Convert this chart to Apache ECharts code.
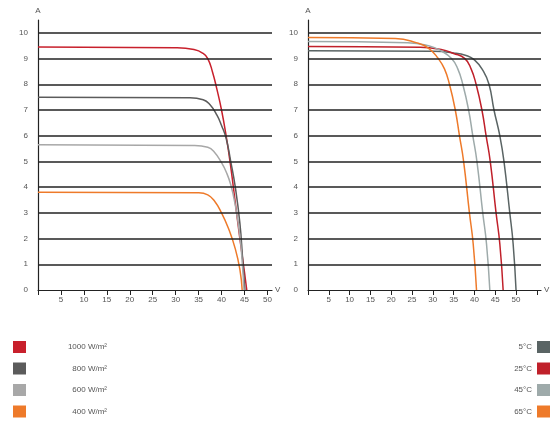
<!DOCTYPE html>
<html><head><meta charset="utf-8">
<script src="https://cdn.jsdelivr.net/npm/echarts@6/dist/echarts.min.js"></script>
<style>html,body{margin:0;padding:0;background:#fff}#c{width:558px;height:423px}</style>
</head><body><div id="c"></div>
<script>
// Left chart: current vs voltage at different irradiance
const irrNames = ['1000 W/m²', '800 W/m²', '600 W/m²', '400 W/m²'];
const irr1000 = [[0,9.45],[30,9.42],[34,9.35],[36,9.2],[37,9.0],[38,8.5],[39,7.8],[40,7.0],[41,6.0],[42,4.8],[43,3.4],[44,2.0],[45,0.7],[45.5,0]];
const irr800 = [[0,7.5],[33,7.48],[36,7.4],[37.5,7.2],[39,6.8],[40,6.4],[41,5.9],[42,5.0],[43,4.0],[44,2.6],[44.6,1.2],[45.1,0]];
const irr600 = [[0,5.65],[34,5.62],[37,5.55],[38.5,5.35],[40,4.95],[41,4.6],[42,4.1],[43,3.3],[44,2.1],[44.5,1.1],[44.9,0]];
const irr400 = [[0,3.8],[35,3.78],[37,3.7],[38.5,3.45],[40,3.0],[41.5,2.4],[43,1.6],[44,0.8],[44.5,0]];
// Right chart: current vs voltage at different cell temperature
const tempNames = ['5°C', '25°C', '45°C', '65°C'];
const temp5 = [[0,9.3],[30,9.28],[35,9.22],[38,9.12],[40,8.95],[42,8.55],[43.5,8.0],[44.7,7.0],[46.1,6.0],[47.1,5.0],[48.5,3.0],[49.3,1.8],[50,0]];
const temp25 = [[0,9.47],[27,9.44],[32,9.35],[35,9.2],[37.7,9.0],[39.2,8.6],[40.4,8.0],[41.8,7.0],[42.8,6.0],[43.8,5.0],[45.2,3.0],[46.1,1.8],[46.9,0]];
const temp45 = [[0,9.66],[24,9.62],[29,9.5],[32,9.3],[34.5,9.0],[36,8.6],[37.2,8.0],[38.6,7.0],[39.6,6.0],[40.6,5.0],[42,3.0],[42.9,1.8],[43.7,0]];
const temp65 = [[0,9.82],[21,9.78],[26,9.62],[29,9.4],[31.3,9.0],[32.8,8.6],[34,8.0],[35.4,7.0],[36.4,6.0],[37.4,5.0],[38.8,3.0],[39.7,1.8],[40.5,0]];
// Horizontal grid lines (ampere levels)
const gridLevels = [1,2,3,4,5,6,7,8,9,10];
const yTickLabels = [0,1,2,3,4,5,6,7,8,9,10];

const irrColors = ['#c8202c', '#5b5b5b', '#a8a8a8', '#ee7a2a'];
const tempColors = ['#5a6464', '#c0202a', '#9eaaaa', '#ee7a2a'];

const font = 'Liberation Sans, Arial, sans-serif';
const txt = {color:'#555', fontSize:8, fontFamily:font};

function xAx(gi, max) {
  return {type:'value', gridIndex:gi, min:0, max:max, interval:5, name:'V', nameGap:3,
    nameTextStyle:Object.assign({}, txt, {fontSize:8}),
    axisLine:{lineStyle:{color:'#222', width:1.2}},
    axisTick:{show:true, length:5, lineStyle:{color:'#222'}},
    axisLabel:Object.assign({}, txt, {margin:6, showMaxLabel:false, formatter:v => (v === 0 || v > 50) ? '' : v}),
    splitLine:{show:false}};
}
function yAx(gi) {
  return {type:'value', gridIndex:gi, min:0, max:10.5, interval:1, name:'A', nameGap:5,
    nameTextStyle:Object.assign({}, txt, {align:'center'}),
    axisLine:{show:true, lineStyle:{color:'#222', width:1.2}},
    axisTick:{show:false},
    axisLabel:Object.assign({}, txt, {margin:10, showMaxLabel:false,
      formatter:v => yTickLabels.indexOf(v) >= 0 ? String(v) : ''}),
    splitLine:{show:false}};
}
function ser(name, data, color, gi) {
  return {name:name, type:'line', xAxisIndex:gi, yAxisIndex:gi, data:data, color:color,
    showSymbol:false, smooth:0.5, lineStyle:{width:1.5, color:color}, z:3};
}
function gridSer(gi) {
  return {type:'line', xAxisIndex:gi, yAxisIndex:gi, data:[], z:1, silent:true,
    markLine:{silent:true, symbol:'none', label:{show:false}, animation:false,
      lineStyle:{color:'#222', width:1.6, type:'solid'},
      data:gridLevels.map(v => ({yAxis:v}))}};
}

const irrData = [irr1000, irr800, irr600, irr400];
const tempData = [temp5, temp25, temp45, temp65];
const series = [gridSer(0), gridSer(1)];
irrNames.forEach((n,i) => series.push(ser(n, irrData[i], irrColors[i], 0)));
tempNames.forEach((n,i) => series.push(ser(n, tempData[i], tempColors[i], 1)));

const chart = echarts.init(document.getElementById('c'), null, {renderer:'canvas'});
chart.setOption({
  animation:false,
  backgroundColor:'#fff',
  grid:[{left:38, top:20, width:234, height:270}, {left:308, top:20, width:233, height:270}],
  xAxis:[xAx(0, 51), xAx(1, 56)],
  yAxis:[yAx(0), yAx(1)],
  legend:[
    {data:irrNames, orient:'vertical', left:13, top:341, padding:0, icon:'rect', itemWidth:13, itemHeight:12, itemGap:9.5,
     formatter:n => '{a|' + n + '}',
     textStyle:Object.assign({}, txt, {rich:{a:{width:76, align:'right', fontSize:8, color:'#555', fontFamily:font}}})},
    {data:tempNames, orient:'vertical', right:8, top:341, padding:0, align:'right', icon:'rect', itemWidth:13, itemHeight:12, itemGap:9.5,
     formatter:n => '{a|' + n + '}',
     textStyle:Object.assign({}, txt, {rich:{a:{width:30, align:'right', fontSize:8, color:'#555', fontFamily:font}}})}
  ],
  series:series
});
</script></body></html>
